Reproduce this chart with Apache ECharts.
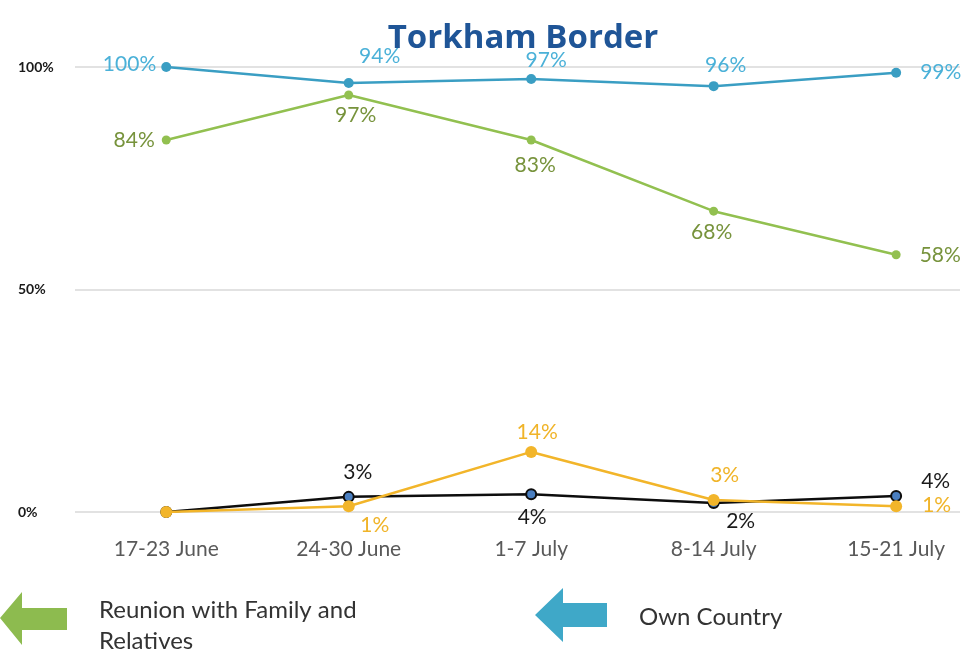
<!DOCTYPE html>
<html>
<head>
<meta charset="utf-8">
<script src="https://cdn.jsdelivr.net/npm/echarts@6/dist/echarts.min.js"></script>
<style>html,body{margin:0;padding:0;background:#fff}#c{width:970px;height:653px}</style>
</head>
<body>
<div id="c"></div>
<script>
const categories = ['17-23 June', '24-30 June', '1-7 July', '8-14 July', '15-21 July'];
const yTicks = [0, 50, 100];
const ownCountry = [100, 96.4, 97.3, 95.7, 98.7];
const ownCountryLabels = ['100%', '94%', '97%', '96%', '99%'];
const reunion = [83.6, 93.7, 83.6, 67.6, 57.8];
const reunionLabels = ['84%', '97%', '83%', '68%', '58%'];
const yellowSeries = [0, 1.3, 13.5, 2.7, 1.3];
const yellowLabels = ['', '1%', '14%', '3%', '1%'];
const blackSeries = [0, 3.4, 4.0, 2.0, 3.6];
const blackLabels = ['', '3%', '4%', '2%', '4%'];

// label placement (layout only)
const ownPos = [['left', [0, -3]], ['top', [31, -6]], ['top', [15, 2]], ['top', [12, 0]], ['right', [14, -1]]];
const reuPos = [['left', [-2, 0]], ['bottom', [7, 0]], ['bottom', [4, 5]], ['bottom', [-2, 1]], ['right', [14, 0]]];
const yelPos = [['top', [0, 0]], ['bottom', [26, -2]], ['top', [6, 2]], ['top', [11, -3]], ['right', [15, -1]]];
const blkPos = [['top', [0, 0]], ['top', [9, -3]], ['bottom', [1, 2]], ['bottom', [27, -3]], ['right', [14, -15]]];

const FONT = 'Lato';

function build(values, labels, pos, color) {
  return values.map((v, i) => ({
    value: [i, v],
    label: {
      show: labels[i] !== '',
      formatter: labels[i],
      position: pos[i][0],
      offset: pos[i][1],
      distance: 5,
      color: color,
      fontSize: 21,
      fontFamily: FONT
    }
  }));
}

const chart = echarts.init(document.getElementById('c'), null, {renderer: 'canvas'});
chart.setOption({
  animation: false,
  backgroundColor: '#ffffff',
  title: {
    text: 'Torkham Border',
    left: 518, top: 17, textAlign: 'center',
    textStyle: {color: '#1f5597', fontSize: 33, fontWeight: 'bold', fontFamily: 'Open Sans'}
  },
  grid: {left: 75, right: 10, top: 67, bottom: 141},
  xAxis: {
    type: 'value', min: -0.5, max: 4.35,
    axisLine: {show: false}, axisTick: {show: false}, splitLine: {show: false},
    axisLabel: {
      customValues: [0, 1, 2, 3, 4],
      formatter: v => categories[Math.round(v)] || '',
      color: '#595959', fontSize: 21, fontFamily: FONT, margin: 27
    }
  },
  yAxis: {
    type: 'value', min: 0, max: 100, interval: 50,
    axisLine: {show: false}, axisTick: {show: false},
    splitLine: {lineStyle: {color: '#d9d9d9', width: 1.5}},
    axisLabel: {
      customValues: yTicks,
      formatter: v => v + '%', align: 'left', margin: 57,
      color: '#1a1a1a', fontSize: 14, fontWeight: 'bold', fontFamily: FONT
    }
  },
  series: [
    {
      name: 'Reunion with Family and Relatives', type: 'line', z: 2,
      data: build(reunion, reunionLabels, reuPos, '#77933c'),
      symbol: 'circle', symbolSize: 9,
      lineStyle: {color: '#92c050', width: 2.5},
      itemStyle: {color: '#92c050'}
    },
    {
      name: 'Own Country', type: 'line', z: 3,
      data: build(ownCountry, ownCountryLabels, ownPos, '#4bb1d8'),
      symbol: 'circle', symbolSize: 10,
      lineStyle: {color: '#3a9ec3', width: 2.5},
      itemStyle: {color: '#3a9ec3'}
    },
    {
      name: 'Series 3', type: 'line', z: 3,
      data: build(blackSeries, blackLabels, blkPos, '#1a1a1a'),
      symbol: 'circle', symbolSize: 10,
      lineStyle: {color: '#0d0d0d', width: 2.5},
      itemStyle: {color: '#4a7fc1', borderColor: '#0d0d0d', borderWidth: 2}
    },
    {
      name: 'Series 4', type: 'line', z: 4,
      data: build(yellowSeries, yellowLabels, yelPos, '#f0b429'),
      symbol: 'circle', symbolSize: 12,
      lineStyle: {color: '#f2b52a', width: 2.5},
      itemStyle: {color: '#f2b52a'}
    }
  ],
  graphic: [
    {type: 'polygon', shape: {points: [[0, 618], [22, 592], [22, 608], [67, 608], [67, 630], [22, 630], [22, 645]]}, style: {fill: '#8dbb4f'}},
    {type: 'text', left: 99, top: 595, style: {text: 'Reunion with Family and\nRelatives', fill: '#333333', fontSize: 24, fontFamily: FONT, lineHeight: 31}},
    {type: 'polygon', shape: {points: [[535, 615], [563, 588], [563, 603], [607, 603], [607, 627], [563, 627], [563, 642]]}, style: {fill: '#3fa8c8'}},
    {type: 'text', left: 639, top: 605, style: {text: 'Own Country', fill: '#333333', fontSize: 24, fontFamily: FONT}}
  ]
});
</script>
</body>
</html>
